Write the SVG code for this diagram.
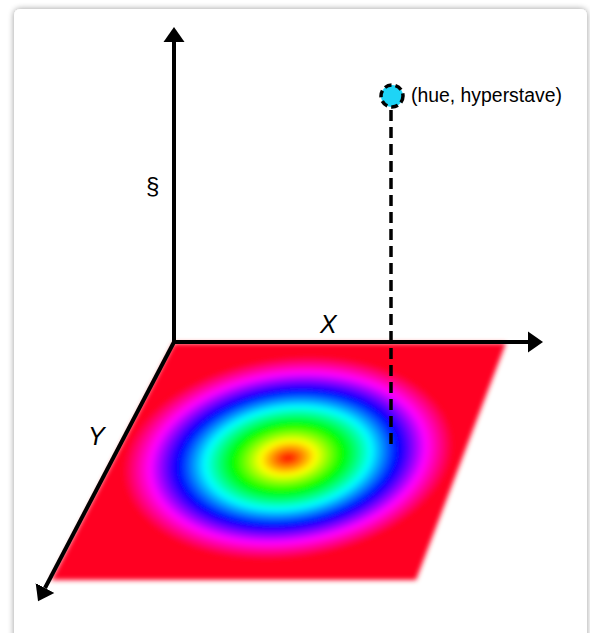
<svg xmlns="http://www.w3.org/2000/svg" width="590" height="633" viewBox="0 0 590 633">
  <style>
    .axis { stroke: #000; stroke-width: 4; fill: none; }
    .lbl { font-family: "Liberation Sans", Arial, sans-serif; fill: #000; }
    .axlbl { font-size: 25px; font-style: italic; }
  </style>
  <defs>
    <filter id="shadow" x="-5%" y="-5%" width="110%" height="110%">
      <feGaussianBlur in="SourceAlpha" stdDeviation="3"/>
      <feOffset dx="0" dy="0" result="b"/>
      <feComponentTransfer><feFuncA type="linear" slope="0.4"/></feComponentTransfer>
      <feMerge><feMergeNode/><feMergeNode in="SourceGraphic"/></feMerge>
    </filter>
    <filter id="soft" x="-5%" y="-5%" width="110%" height="110%">
      <feGaussianBlur stdDeviation="2.5"/>
    </filter>
    <radialGradient id="hue" gradientUnits="userSpaceOnUse" cx="0" cy="0" r="1" gradientTransform="matrix(164,0,-22,102,288,458)">
      <stop offset="0" stop-color="#ff0000"/>
      <stop offset="0.1667" stop-color="#ffff00"/>
      <stop offset="0.3333" stop-color="#00ff00"/>
      <stop offset="0.5" stop-color="#00ffff"/>
      <stop offset="0.6667" stop-color="#0000ff"/>
      <stop offset="0.8333" stop-color="#ff00ff"/>
      <stop offset="1" stop-color="#ff0022"/>
    </radialGradient>
    <marker id="arrow" markerUnits="userSpaceOnUse" viewBox="0 -11 15 22" markerWidth="15" markerHeight="22" refX="0" refY="0" orient="auto">
      <path d="M0,-10.5 L15,0 L0,10.5 z" fill="#000"/>
    </marker>
  </defs>

  <rect x="14" y="9" width="573" height="660" rx="6" fill="#fff" filter="url(#shadow)"/>

  <g id="plane">
    <polygon points="174,343 506,343 416,580 51,580" fill="url(#hue)" filter="url(#soft)"/>
  </g>

  <g id="connectors">
    <line class="axis" x1="174" y1="344" x2="174" y2="42" marker-end="url(#arrow)"/>
    <line class="axis" x1="172" y1="342" x2="528" y2="342" marker-end="url(#arrow)"/>
    <line class="axis" x1="174" y1="342" x2="45" y2="588" marker-end="url(#arrow)"/>
    <line x1="391" y1="110" x2="391" y2="447" stroke="#000" stroke-width="3.5" stroke-dasharray="11 6"/>
  </g>

  <g id="labels">
    <text class="lbl" x="146" y="194" font-size="24">§</text>
    <text class="lbl axlbl" x="320" y="333">X</text>
    <text class="lbl axlbl" x="88" y="445">Y</text>
  </g>

  <g id="point">
    <circle cx="392" cy="96" r="11" fill="#1ed4f6" stroke="#000" stroke-width="3.5" stroke-dasharray="7 4"/>
    <text class="lbl" x="411" y="102" font-size="19.4">(hue, hyperstave)</text>
  </g>
</svg>
